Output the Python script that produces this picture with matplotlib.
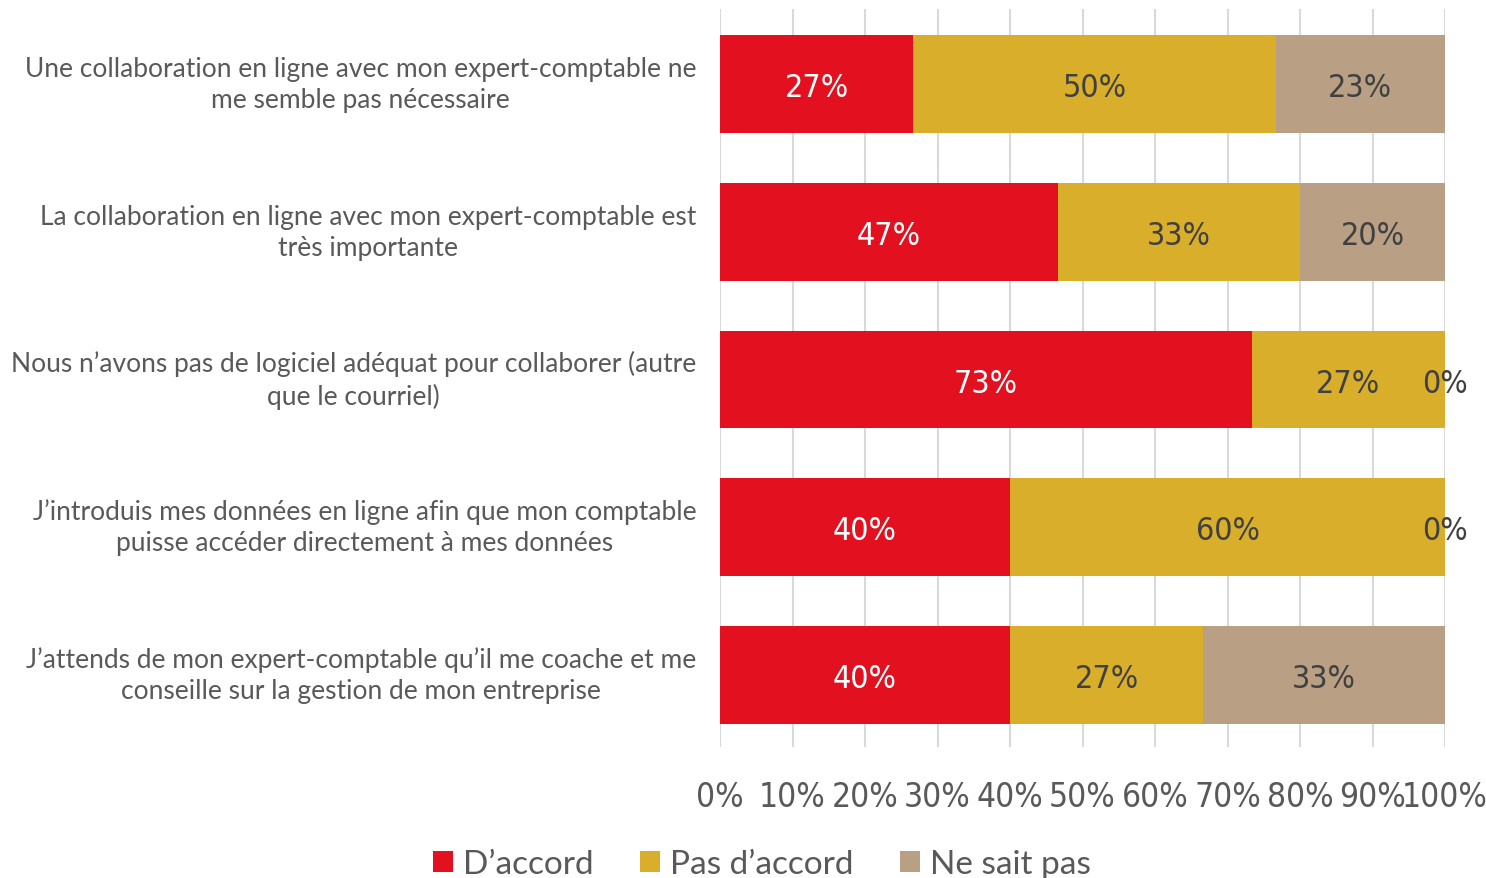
import matplotlib
matplotlib.use("Agg")
import matplotlib.pyplot as plt
from matplotlib.patches import Patch
from matplotlib.font_manager import FontProperties

categories = [
    "Une collaboration en ligne avec mon expert-comptable ne\nme semble pas nécessaire",
    "La collaboration en ligne avec mon expert-comptable est\ntrès importante",
    "Nous n’avons pas de logiciel adéquat pour collaborer (autre\nque le courriel)",
    "J’introduis mes données en ligne afin que mon comptable\npuisse accéder directement à mes données",
    "J’attends de mon expert-comptable qu’il me coache et me\nconseille sur la gestion de mon entreprise",
]
series_names = ["D’accord", "Pas d’accord", "Ne sait pas"]
d_accord = [26.67, 46.67, 73.33, 40.0, 40.0]
pas_d_accord = [50.0, 33.33, 26.67, 60.0, 26.67]
ne_sait_pas = [23.33, 20.0, 0.0, 0.0, 33.33]
xtick_values = [0, 10, 20, 30, 40, 50, 60, 70, 80, 90, 100]
xtick_labels = [f"{v}%" for v in xtick_values]

colors = ["#E3111F", "#D9AE2A", "#B9A084"]
label_colors = ["white", "#404040", "#404040"]
text_gray = "#595959"
regular = ["Lato", "DejaVu Sans"]

def narrow(size):
    return FontProperties(family="DejaVu Sans", stretch="condensed", size=size)

fig = plt.figure(figsize=(14.86, 8.79), dpi=100)
ax = fig.add_axes([720/1486, 1-748/879, 725/1486, 738/879])

y = list(range(len(categories)))
left = [0.0]*len(categories)
for vals, col, lc in zip([d_accord, pas_d_accord, ne_sait_pas], colors, label_colors):
    ax.barh(y, vals, left=left, height=0.662, color=col, zorder=2)
    for yi, l, v in zip(y, left, vals):
        ax.text(l + v/2, yi + 0.025, f"{round(v):d}%", ha="center", va="center",
                color=lc, fontproperties=narrow(23), zorder=3)
    left = [a + b for a, b in zip(left, vals)]

ax.set_xlim(0, 100)
ax.set_ylim(4.49, -0.51)
ax.set_xticks(xtick_values)
ax.set_xticklabels(xtick_labels, color=text_gray, fontproperties=narrow(24))
ax.set_yticks(y)
ax.set_yticklabels(categories, fontsize=19, color=text_gray, family=regular,
                   ha="right", va="center", multialignment="center", linespacing=1.3)
ax.tick_params(axis="x", length=0, pad=24)
ax.tick_params(axis="y", length=0, pad=17)
ax.grid(axis="x", color="#D9D9D9", linewidth=1.5, zorder=0)
ax.set_axisbelow(True)
for s in ax.spines.values():
    s.set_visible(False)

handles = [Patch(facecolor=c, edgecolor="none") for c in colors]
leg = fig.legend(handles, series_names, loc="center", bbox_to_anchor=(762/1486, 1-865/879),
                 ncol=3, frameon=False, handlelength=0.6, handleheight=0.6,
                 handletextpad=0.3, columnspacing=1.4, prop={"family": regular, "size": 24})
for t in leg.get_texts():
    t.set_color(text_gray)

fig.savefig("out.png", dpi=100)
